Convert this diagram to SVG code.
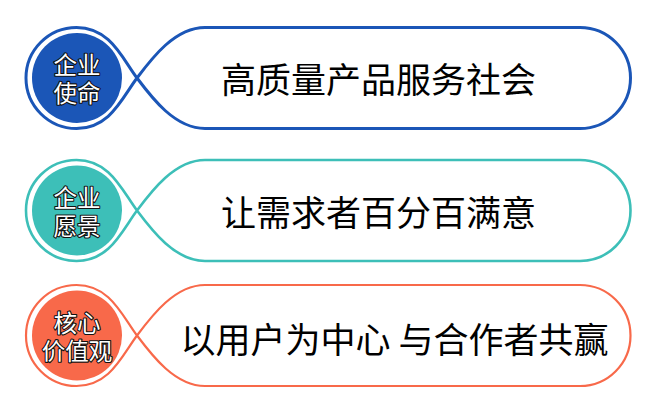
<svg xmlns="http://www.w3.org/2000/svg" width="662" height="418" viewBox="0 0 662 418">
<style>
.frame{fill:#ffffff}
.badge{font-family:"Noto Sans CJK SC","Noto Sans",sans-serif;font-size:23.5px;fill:#ffffff;stroke:#111111;stroke-width:2.2px;paint-order:stroke;stroke-linejoin:round;text-anchor:middle;dominant-baseline:central}
.main{font-family:"Noto Sans CJK SC","Noto Sans",sans-serif;font-size:35px;fill:#000000;text-anchor:middle;dominant-baseline:central}
</style>
<rect width="662" height="418" fill="#ffffff"/>
<g id="node-mission">
<path class="frame" stroke="#1B56B7" stroke-width="3" d="M205,27.5 H580 A50.5 50.5 0 0 1 580,128.5 H205 C175,128.5 152,98 137,78 C122,58 110,27.5 76.5,27.5 A50.5 50.5 0 0 0 76.5,128.5 C110,128.5 122,98 137,78 C152,58 175,27.5 205,27.5 Z"/>
<circle cx="77" cy="78" r="45" fill="#1B56B7"/>
<text class="badge"><tspan x="77" y="64">企业</tspan><tspan x="77" y="92">使命</tspan></text>
<text class="main" x="378.5" y="77">高质量产品服务社会</text>
</g>
<g id="node-vision">
<path class="frame" stroke="#3DBFB8" stroke-width="2.6" d="M205,160 H580 A50.5 50.5 0 0 1 580,261 H205 C175,261 152,230.5 137,210.5 C122,190.5 110,160 76.5,160 A50.5 50.5 0 0 0 76.5,261 C110,261 122,230.5 137,210.5 C152,190.5 175,160 205,160 Z"/>
<circle cx="77" cy="210.5" r="45" fill="#3DBFB8"/>
<text class="badge"><tspan x="77" y="196.5">企业</tspan><tspan x="77" y="224.5">愿景</tspan></text>
<text class="main" x="378.5" y="210">让需求者百分百满意</text>
</g>
<g id="node-values">
<path class="frame" stroke="#F8694A" stroke-width="2.2" d="M205,285 H580 A50.5 50.5 0 0 1 580,386 H205 C175,386 152,355.5 137,335.5 C122,315.5 110,285 76.5,285 A50.5 50.5 0 0 0 76.5,386 C110,386 122,355.5 137,335.5 C152,315.5 175,285 205,285 Z"/>
<circle cx="77" cy="335.5" r="45" fill="#F8694A"/>
<text class="badge"><tspan x="77" y="321.5">核心</tspan><tspan x="77" y="349.5">价值观</tspan></text>
<text class="main" x="394.5" y="337">以用户为中心 与合作者共赢</text>
</g>
<g id="connectors"></g>
</svg>
